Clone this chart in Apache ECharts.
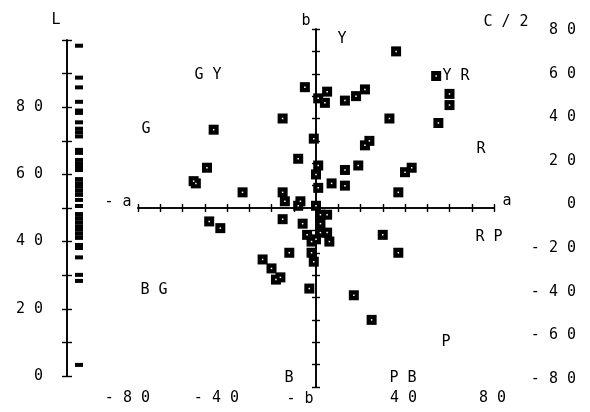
<!DOCTYPE html>
<html><head><meta charset="utf-8">
<script src="https://cdn.jsdelivr.net/npm/echarts@6/dist/echarts.min.js"></script>
<style>html,body{margin:0;padding:0;background:#fff}#c{width:590px;height:412px}</style>
</head><body><div id="c"></div>
<script>
// ---- data ----
const aValues = [-46,-49,-54,-55,-33,-48,-43,-5,5,4,1,-15,-1,-8,1,0,1,7,-15,-14,-7,-8,0,-15,-6,2,5,2,5,2,-4,-2,0,6,-2,-12,-1,-24,-20,-18,-16,-3,36,54,60,60,55,33,13,18,22,24,22,19,13,13,40,43,37,30,37,17,25];
const bValues = [35,18,11,12,7,-6,-9,54,52,47,49,40,31,22,19,15,9,11,7,3,3,1,1,-5,-7,-3,-3,-7,-11,-11,-12,-15,-14,-15,-20,-20,-24,-23,-27,-32,-31,-36,70,59,51,46,38,40,48,50,53,30,28,19,17,10,16,18,7,-12,-20,-39,-50];
const lStrip = [98.3,88.8,85.9,81.6,79.0,78.3,75.5,73.6,72.5,71.3,67.3,66.4,64.3,63.1,61.9,61.3,58.6,57.4,56.3,55.1,53.9,52.4,50.6,48.2,47.0,45.8,44.6,43.5,42.3,41.1,39.0,38.1,35.3,30.1,28.3,3.3];
const lTickLabels = ['0','20','40','60','80'];
const cTickLabels = ['-80','-60','-40','-20','0','20','40','60','80'];
const aTickLabels = ['-80','-40','','40','80'];
const hueLabels = ['L','GY','G','-a','BG','b','Y','C/2','YR','R','a','RP','P','PB','B','-b'];

// ---- layout ----
const FONT = '15px "DejaVu Sans Mono"';
const sp = s => s.split('').join(' ');
const huePos = {
  'L':[56,20],'GY':[208,75],'G':[146,129],'-a':[118,202],'BG':[154,290],'b':[306,21],
  'Y':[342,39],'C/2':[506,22],'YR':[456,76],'R':[481,149],'a':[507,201],'RP':[489,237],
  'P':[446,342],'PB':[403,378],'B':[289,378],'-b':[300,399]
};
const lineStyle = {color:'#000', width:1.6};
const tickLine = {color:'#000', width:1.4};
const labelFont = {color:'#000', fontFamily:'DejaVu Sans Mono', fontSize:15};

function lAxis(grid, inside, withLabels){
  return {gridIndex:grid, type:'value', min:0, max:100, interval:10, position:'left',
    axisLine:{show:true, onZero:false, lineStyle},
    axisTick:{show:true, inside, length:5, lineStyle:tickLine},
    axisLabel: withLabels ? Object.assign({show:true, margin:24, showMinLabel:true, showMaxLabel:true,
      formatter:v=>(v%20===0 && v<=80)? sp(lTickLabels[v/20]) : ''}, labelFont) : {show:false},
    splitLine:{show:false}};
}
function crossAxis(grid, inside){
  return {gridIndex:grid, type:'value', min:-80, max:80, interval:10,
    axisLine:{show:true, onZero:true, lineStyle},
    axisTick:{show:true, inside, length:4, lineStyle:tickLine},
    axisLabel:{show:false}, splitLine:{show:false}};
}
const pts = aValues.map((a,i)=>[a,bValues[i]]);
const strip = lStrip.map(l=>[12,l]);

const chart = echarts.init(document.getElementById('c'), null, {renderer:'canvas'});
chart.setOption({
  animation:false,
  backgroundColor:'#fff',
  grid:[
    {left:67, top:40, width:20, height:336},
    {left:67, top:40, width:20, height:336},
    {left:138, top:29, width:356, height:358},
    {left:138, top:29, width:356, height:358},
    {left:500, top:30, width:70, height:349},
    {left:150, top:29, width:356, height:358}
  ],
  xAxis:[
    {gridIndex:0, type:'value', min:0, max:20, show:false},
    {gridIndex:1, type:'value', min:0, max:20, show:false},
    crossAxis(2, false),
    crossAxis(3, true),
    {gridIndex:4, type:'value', min:0, max:1, show:false},
    {gridIndex:5, type:'value', min:-80, max:80, interval:40, position:'bottom',
     axisLine:{show:false}, axisTick:{show:false}, splitLine:{show:false},
     axisLabel:Object.assign({show:true, showMinLabel:true, showMaxLabel:true, margin:11, align:'right', verticalAlign:'middle',
       formatter:v=>sp(aTickLabels[Math.round((v+80)/40)]||'')}, labelFont)}
  ],
  yAxis:[
    lAxis(0, false, true),
    lAxis(1, true, false),
    crossAxis(2, false),
    crossAxis(3, true),
    {gridIndex:4, type:'value', min:-80, max:80, interval:20, position:'right',
     axisLine:{show:false}, axisTick:{show:false}, splitLine:{show:false},
     axisLabel:Object.assign({show:true, showMinLabel:true, showMaxLabel:true, margin:6, align:'right',
       formatter:v=>sp(cTickLabels[Math.round((v+80)/20)])}, labelFont)},
    {gridIndex:5, type:'value', min:-80, max:80, show:false}
  ],
  graphic: hueLabels.map(t=>({type:'text', x:huePos[t][0], y:huePos[t][1], z:50,
    style:{text:sp(t), font:FONT, fill:'#000', align:'center', verticalAlign:'middle'}})),
  series:[
    {type:'scatter', xAxisIndex:0, yAxisIndex:0, data:strip, symbol:'rect', symbolSize:[8,4],
     itemStyle:{color:'#000', opacity:1}, silent:true},
    {type:'scatter', xAxisIndex:2, yAxisIndex:2, data:pts, symbol:'rect', symbolSize:10,
     itemStyle:{color:'#000', opacity:1}, silent:true, z:5},
    {type:'scatter', xAxisIndex:2, yAxisIndex:2, data:pts, symbol:'rect', symbolSize:1.5,
     itemStyle:{color:'#fff', opacity:1}, silent:true, z:6}
  ]
});
</script></body></html>
